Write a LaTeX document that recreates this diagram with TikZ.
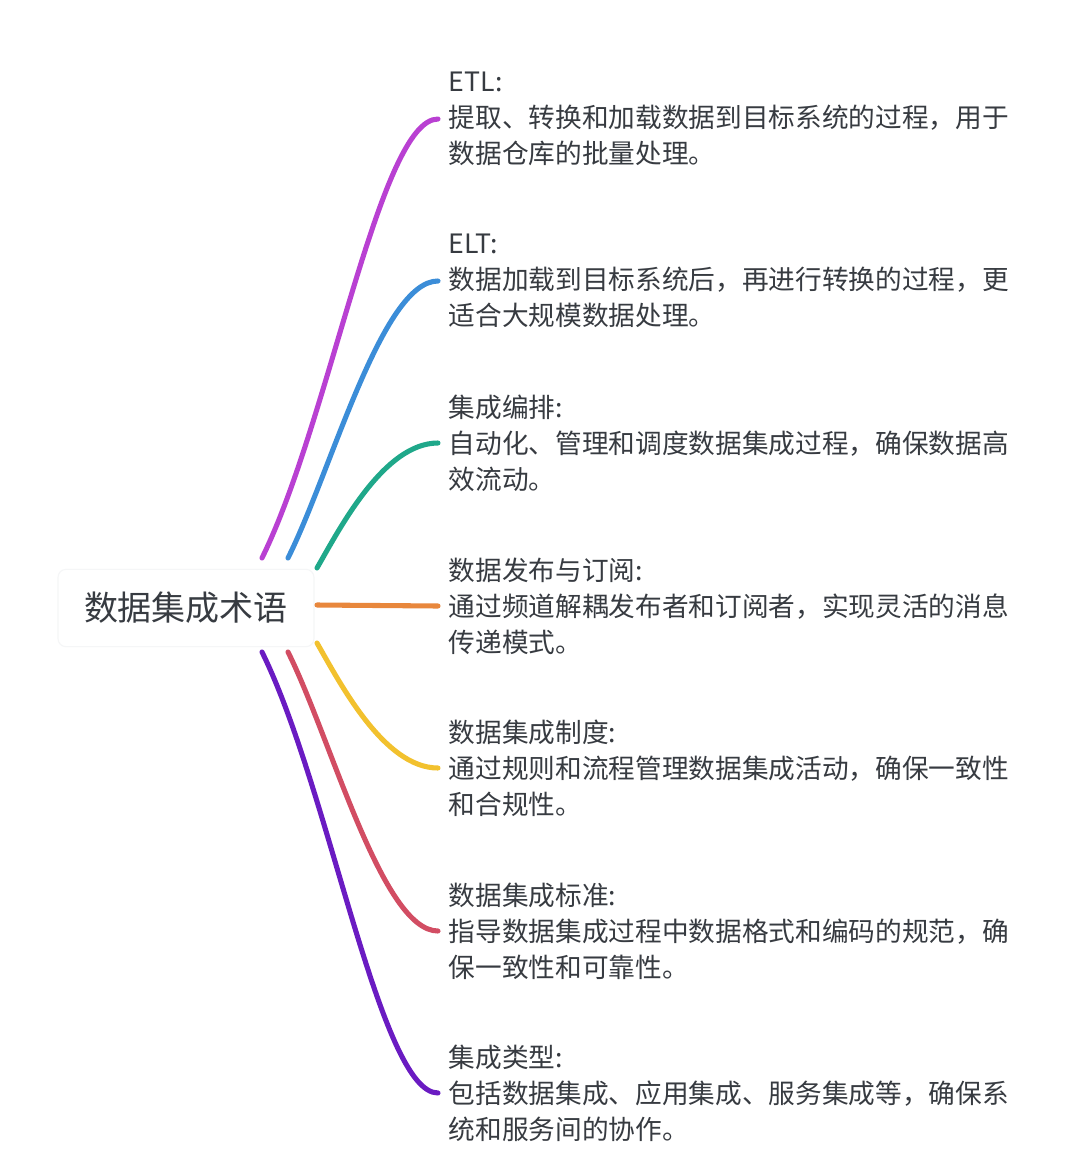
\documentclass[tikz,border=0pt]{standalone}
\usepackage{fontspec}
\setmainfont{Noto Sans CJK SC}
\usetikzlibrary{positioning}
\definecolor{ink}{HTML}{373B41}
\definecolor{hubline}{HTML}{F5F6F7}
\definecolor{brEtl}{HTML}{B940D2}
\definecolor{brElt}{HTML}{3B8DD8}
\definecolor{brOrch}{HTML}{1FA88A}
\definecolor{brPub}{HTML}{E8873C}
\definecolor{brPol}{HTML}{F2C12E}
\definecolor{brStd}{HTML}{D24D63}
\definecolor{brType}{HTML}{6A1BC2}

\begin{document}
\begin{tikzpicture}[
    x=0.75pt, y=-0.75pt,
    branch/.style={line width=3.8pt, line cap=round},
    hub/.style={rounded corners=6pt, draw=hubline, fill=white, line width=0.8pt,
                minimum width=192pt, minimum height=58pt, text=ink,
                font=\fontsize{25.5}{30}\selectfont},
    desc/.style={anchor=west, align=left, inner xsep=8pt, inner ysep=0pt,
                 text=ink, font=\fontsize{20}{27}\selectfont},
  ]

% canvas
\fill[white] (0,0) rectangle (1080,1154);
\useasboundingbox (0,0) rectangle (1080,1154);

% central topic
\node[hub] (root) at (186,608) {数据集成术语};

% branch roots
\coordinate (s1) at (262,558);
\coordinate (s2) at (288,558);
\coordinate (s3) at (317,568);
\coordinate (s4) at (317,605);
\coordinate (s5) at (317,643);
\coordinate (s6) at (288,652);
\coordinate (s7) at (262,652);

% terms
\node[desc] (etl) at (438,119)
  {ETL:\\提取、转换和加载数据到目标系统的过程，用于\\数据仓库的批量处理。};
\node[desc] (elt) at (438,281)
  {ELT:\\数据加载到目标系统后，再进行转换的过程，更\\适合大规模数据处理。};
\node[desc] (orch) at (438,443)
  {集成编排:\\自动化、管理和调度数据集成过程，确保数据高\\效流动。};
\node[desc] (pubsub) at (438,606)
  {数据发布与订阅:\\通过频道解耦发布者和订阅者，实现灵活的消息\\传递模式。};
\node[desc] (policy) at (438,768)
  {数据集成制度:\\通过规则和流程管理数据集成活动，确保一致性\\和合规性。};
\node[desc] (std) at (438,931)
  {数据集成标准:\\指导数据集成过程中数据格式和编码的规范，确\\保一致性和可靠性。};
\node[desc] (types) at (438,1093)
  {集成类型:\\包括数据集成、应用集成、服务集成等，确保系\\统和服务间的协作。};

% connectors
\draw[branch, brEtl] (s1) .. controls +(68,-138) and +(-58,0) .. (etl.west);
\draw[branch, brElt] (s2) .. controls +(43,-86) and +(-56,0) .. (elt.west);
\draw[branch, brOrch] (s3) .. controls +(23,-40) and +(-54,0) .. (orch.west);
\draw[branch, brPub] (s4) -- (pubsub.west);
\draw[branch, brPol] (s5) .. controls +(23,40) and +(-54,0) .. (policy.west);
\draw[branch, brStd] (s6) .. controls +(43,86) and +(-56,0) .. (std.west);
\draw[branch, brType] (s7) .. controls +(68,138) and +(-58,0) .. (types.west);

\end{tikzpicture}
\end{document}
